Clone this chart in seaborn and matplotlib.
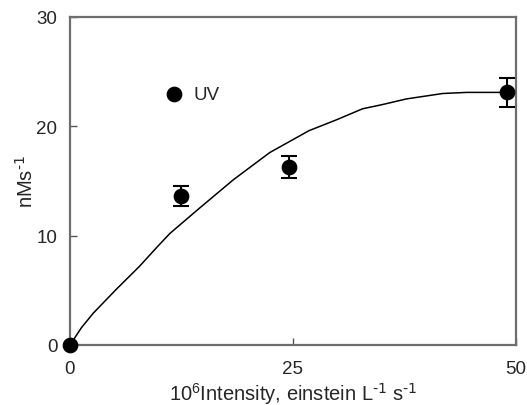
import numpy as np
import pandas as pd
import seaborn as sns
import matplotlib.pyplot as plt

# Measured points (rate vs light intensity)
intensity = [0, 12.5, 24.6, 49.0]
rate = [0, 13.6, 16.3, 23.1]
rate_err = [0, 0.9, 1.0, 1.35]

# Fitted curve
curve_x = [0, 1.3, 2.6, 5.2, 7.8, 9.7, 11.2, 14.5, 18.3, 22.4, 26.8, 29.9, 32.8, 35.1, 37.7, 41.8, 44.5, 48.4]
curve_y = [0, 1.6, 2.9, 5.1, 7.2, 8.9, 10.2, 12.5, 15.1, 17.6, 19.6, 20.6, 21.6, 22.0, 22.5, 23.0, 23.1, 23.1]

pts = pd.DataFrame({"Intensity": intensity, "Rate": rate})
fit = pd.DataFrame({"Intensity": curve_x, "Rate": curve_y})

sns.set_style("white")
plt.rcParams['font.family'] = ['Liberation Sans', 'DejaVu Sans']
plt.rcParams['mathtext.default'] = 'regular'

fig = plt.figure(figsize=(5.27, 4.06), dpi=100)
ax = fig.add_axes([0.1328, 0.1478, 0.8462, 0.808])

sns.lineplot(data=fit, x="Intensity", y="Rate", color="black", linewidth=1.1, ax=ax)
ax.errorbar(intensity[1:], rate[1:], yerr=rate_err[1:], fmt="none",
            ecolor="black", elinewidth=1.5, capsize=6, capthick=1.5, zorder=3)
sns.scatterplot(data=pts, x="Intensity", y="Rate", color="black", s=110,
                edgecolor="black", label="UV", ax=ax, zorder=4, clip_on=False)

ax.set_xlim(0, 50)
ax.set_ylim(0, 30)
ax.set_xticks([0, 25, 50])
ax.set_yticks([0, 10, 20, 30])
ax.tick_params(direction="in", length=5, width=1, color="#555555",
               labelsize=13.5, pad=9, bottom=True, left=True)
ax.tick_params(axis="x", pad=11)
for s in ax.spines.values():
    s.set_color("#6e6e6e")
    s.set_linewidth(1.6)

ax.set_xlabel(r"10$^{6}$Intensity, einstein L$^{\text{-1}}$ s$^{\text{-1}}$",
              fontsize=14.5, labelpad=2)
ax.set_ylabel(r"nMs$^{\text{-1}}$", fontsize=14.5, labelpad=0)

ax.legend(loc="center left", bbox_to_anchor=(0.213, 0.765), frameon=False,
          fontsize=13.5, handlelength=1, handletextpad=0.5, borderpad=0,
          borderaxespad=0)

fig.savefig("out.png", dpi=100)
